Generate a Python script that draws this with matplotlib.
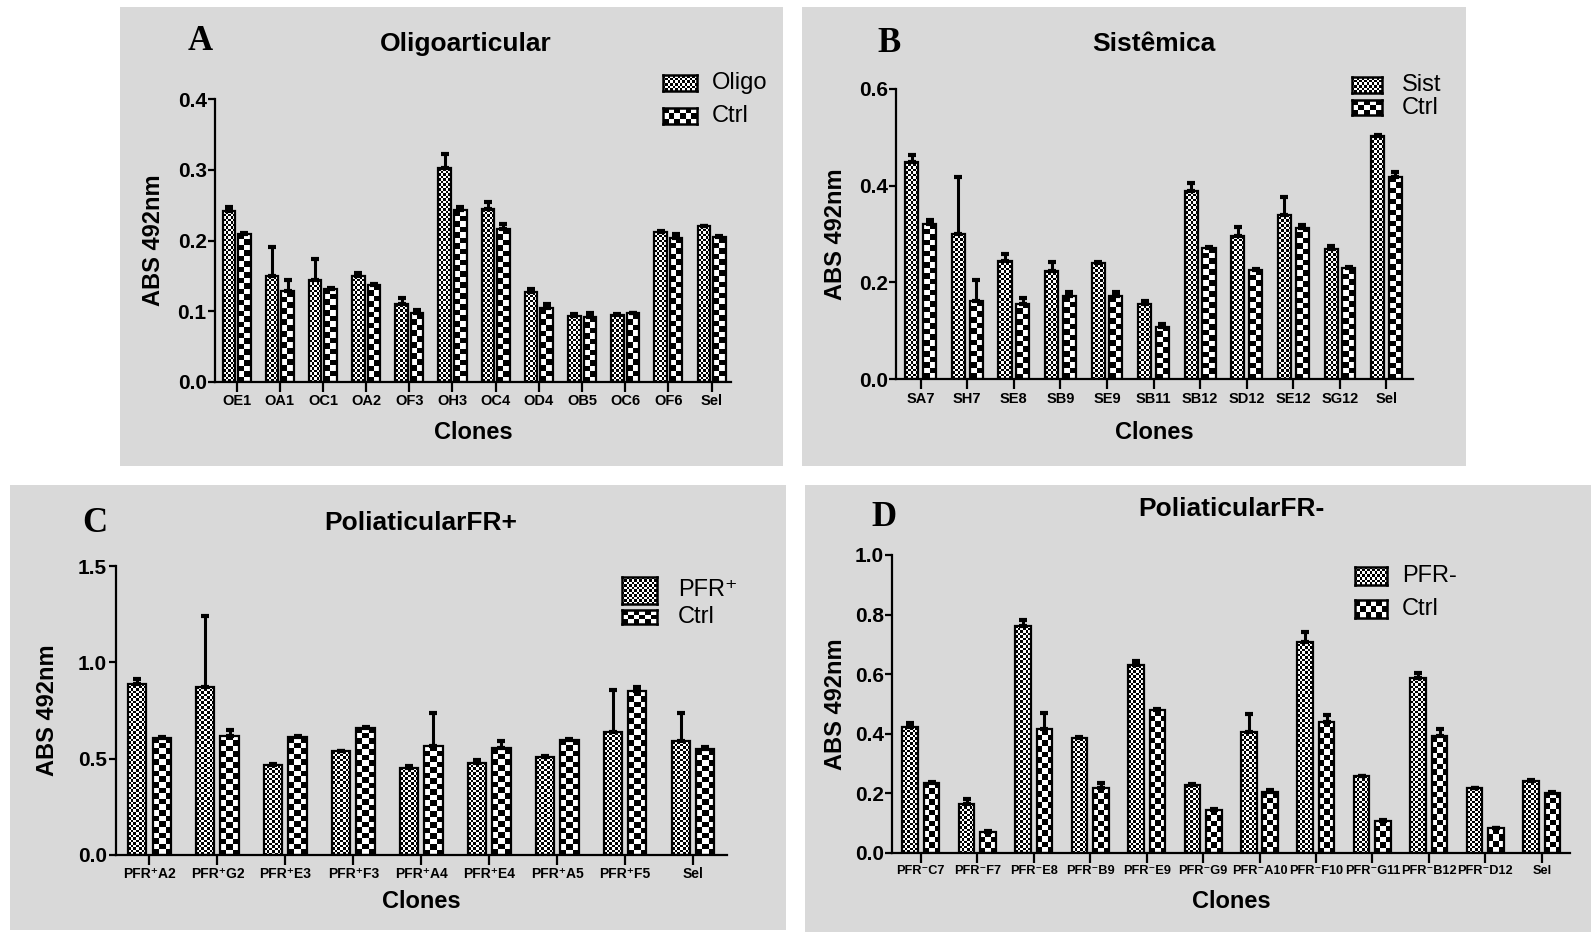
import numpy as np
import matplotlib
matplotlib.use("Agg")
import matplotlib.pyplot as plt
from matplotlib.patches import Rectangle

W, H = 1591, 932
BG = "#d9d9d9"
SANS = ["Liberation Sans", "DejaVu Sans"]

# Painel A - Oligoarticular
labels_a = ["OE1", "OA1", "OC1", "OA2", "OF3", "OH3", "OC4", "OD4", "OB5", "OC6", "OF6", "Sel"]
oligo = [0.242, 0.150, 0.144, 0.150, 0.110, 0.302, 0.244, 0.127, 0.093, 0.095, 0.212, 0.220]
oligo_err = [0.006, 0.041, 0.030, 0.004, 0.008, 0.020, 0.011, 0.005, 0.003, 0.001, 0.001, 0.001]
ctrl_a = [0.209, 0.128, 0.132, 0.137, 0.097, 0.243, 0.216, 0.104, 0.091, 0.097, 0.204, 0.205]
ctrl_a_err = [0.002, 0.016, 0.001, 0.002, 0.004, 0.005, 0.008, 0.006, 0.007, 0.001, 0.005, 0.002]

# Painel B - Sistêmica
labels_b = ["SA7", "SH7", "SE8", "SB9", "SE9", "SB11", "SB12", "SD12", "SE12", "SG12", "Sel"]
sist = [0.449, 0.301, 0.244, 0.224, 0.241, 0.155, 0.388, 0.295, 0.339, 0.270, 0.502]
sist_err = [0.014, 0.117, 0.014, 0.019, 0.002, 0.007, 0.017, 0.020, 0.037, 0.005, 0.003]
ctrl_b = [0.321, 0.162, 0.155, 0.171, 0.171, 0.109, 0.271, 0.226, 0.313, 0.229, 0.417]
ctrl_b_err = [0.008, 0.044, 0.013, 0.010, 0.010, 0.005, 0.002, 0.002, 0.006, 0.002, 0.011]

# Painel C - PoliaticularFR+
labels_c = ["PFR⁺A2", "PFR⁺G2", "PFR⁺E3", "PFR⁺F3", "PFR⁺A4", "PFR⁺E4", "PFR⁺A5", "PFR⁺F5", "Sel"]
pfrp = [0.888, 0.874, 0.467, 0.538, 0.452, 0.479, 0.510, 0.637, 0.590]
pfrp_err = [0.027, 0.368, 0.003, 0.003, 0.010, 0.014, 0.006, 0.219, 0.147]
ctrl_c = [0.609, 0.619, 0.611, 0.661, 0.568, 0.555, 0.595, 0.850, 0.548]
ctrl_c_err = [0.002, 0.030, 0.007, 0.005, 0.169, 0.035, 0.007, 0.020, 0.014]

# Painel D - PoliaticularFR-
labels_d = ["PFR⁻C7", "PFR⁻F7", "PFR⁻E8", "PFR⁻B9", "PFR⁻E9", "PFR⁻G9", "PFR⁻A10",
            "PFR⁻F10", "PFR⁻G11", "PFR⁻B12", "PFR⁻D12", "Sel"]
pfrm = [0.421, 0.164, 0.763, 0.386, 0.630, 0.227, 0.407, 0.709, 0.258, 0.586, 0.218, 0.242]
pfrm_err = [0.014, 0.015, 0.019, 0.001, 0.014, 0.004, 0.060, 0.033, 0.001, 0.019, 0.001, 0.002]
ctrl_d = [0.235, 0.071, 0.414, 0.218, 0.479, 0.143, 0.203, 0.438, 0.108, 0.392, 0.082, 0.202]
ctrl_d_err = [0.001, 0.001, 0.056, 0.015, 0.004, 0.003, 0.008, 0.026, 0.002, 0.024, 0.002, 0.003]

FINE = 2.5    # tamanho da célula do xadrez (px)
COARSE = 5.5


def fx(px):
    return px / W


def fy(py):
    return 1 - py / H


def board(nr, nc):
    i, j = np.indices((max(nr, 1), max(nc, 1)))
    return ((i + j) % 2).astype(float)


def draw_panel(box, labels, s1, e1, s2, e2, ylim, yticks, xlim, width, off, tick_fs):
    ax = fig.add_axes([fx(box[0]), fy(box[3]), fx(box[2] - box[0]), (box[3] - box[1]) / H])
    ax.patch.set_visible(False)
    x = np.arange(len(labels))
    axw = box[2] - box[0]
    axh = box[3] - box[1]
    pxx = axw / (xlim[1] - xlim[0])
    pxy = axh / (ylim[1] - ylim[0])
    for vals, errs, sign, cell in [(s1, e1, -1, FINE), (s2, e2, 1, COARSE)]:
        xc = x + sign * off
        for xi, v in zip(xc, vals):
            nc = int(round(width * pxx / cell))
            nr = int(round(v * pxy / cell))
            ax.imshow(board(nr, nc), extent=(xi - width / 2, xi + width / 2, 0, v),
                      origin="lower", aspect="auto", interpolation="nearest",
                      cmap="gray", vmin=0, vmax=1, zorder=1)
        ax.bar(xc, vals, width, fill=False, edgecolor="black", linewidth=1.6, zorder=2)
        ax.errorbar(xc, vals, yerr=[np.zeros(len(vals)), errs], fmt="none", ecolor="black",
                    elinewidth=2.2, capsize=3, capthick=3, zorder=3)
    ax.set_xlim(*xlim)
    ax.set_ylim(*ylim)
    ax.set_yticks(yticks)
    ax.set_yticklabels([f"{t:.1f}" for t in yticks], fontsize=15, fontweight="bold", family=SANS)
    ax.set_xticks(x)
    ax.set_xticklabels(labels, fontsize=tick_fs, fontweight="bold", family=SANS)
    for s in ["top", "right"]:
        ax.spines[s].set_visible(False)
    for s in ["left", "bottom"]:
        ax.spines[s].set_linewidth(1.6)
    ax.tick_params(axis="y", length=5, width=1.6, pad=1)
    ax.tick_params(axis="x", length=7, width=1.6, pad=2)
    return ax


def legend_item(x0, y0, x1, y1, cell, text, tx):
    lax = fig.add_axes([fx(x0), fy(y1), fx(x1 - x0), (y1 - y0) / H])
    lax.imshow(board(int(round((y1 - y0) / cell)), int(round((x1 - x0) / cell))),
               aspect="auto", interpolation="nearest", cmap="gray", vmin=0, vmax=1)
    lax.set_xticks([])
    lax.set_yticks([])
    for s in lax.spines.values():
        s.set_linewidth(1.8)
    fig.text(fx(tx), fy((y0 + y1) / 2), text, fontsize=17, family=SANS, va="center", ha="left")


fig = plt.figure(figsize=(W / 100, H / 100), dpi=100)
fig.patch.set_facecolor("white")

# fundos cinza
for (x0, y0, x1, y1) in [(120, 7, 783, 466), (802, 7, 1466, 466), (10, 485, 786, 930), (805, 485, 1591, 932)]:
    fig.add_artist(Rectangle((fx(x0), fy(y1)), fx(x1 - x0), (y1 - y0) / H,
                             transform=fig.transFigure, facecolor=BG, edgecolor="none", zorder=0))

ax_a = draw_panel((215, 99.3, 731, 381.7), labels_a, oligo, oligo_err, ctrl_a, ctrl_a_err,
                  (0, 0.4), [0.0, 0.1, 0.2, 0.3, 0.4], (-0.5, 11.45), 0.29, 0.18, 10.5)
ax_b = draw_panel((896, 88.7, 1413, 379.3), labels_b, sist, sist_err, ctrl_b, ctrl_b_err,
                  (0, 0.6), [0.0, 0.2, 0.4, 0.6], (-0.53, 10.57), 0.28, 0.19, 10.5)
ax_c = draw_panel((115.5, 566, 727, 855), labels_c, pfrp, pfrp_err, ctrl_c, ctrl_c_err,
                  (0, 1.5), [0.0, 0.5, 1.0, 1.5], (-0.5, 8.5), 0.27, 0.18, 10)
ax_d = draw_panel((892, 555, 1570, 852.7), labels_d, pfrm, pfrm_err, ctrl_d, ctrl_d_err,
                  (0, 1.0), [0.0, 0.2, 0.4, 0.6, 0.8, 1.0], (-0.51, 11.5), 0.275, 0.19, 9.2)

# títulos, letras e rótulos dos eixos
for (lx, ly, letter, tx, ty, title, ylx, yly) in [
        (200, 42, "A", 466, 44, "Oligoarticular", 154, 240),
        (889, 43, "B", 1154, 44, "Sistêmica", 835, 234),
        (95, 523, "C", 421, 523, "PoliaticularFR+", 47, 710),
        (884, 518, "D", 1231, 509, "PoliaticularFR-", 835, 704)]:
    fig.text(fx(lx), fy(ly), letter, fontsize=25, fontweight="bold",
             family=["Liberation Serif", "DejaVu Serif"], ha="center", va="center")
    fig.text(fx(tx), fy(ty), title, fontsize=19, fontweight="bold", family=SANS,
             ha="center", va="center")
    fig.text(fx(ylx), fy(yly), "ABS 492nm", fontsize=17, fontweight="bold", family=SANS,
             rotation=90, ha="center", va="center")

for ax, xly in [(ax_a, 432), (ax_b, 432), (ax_c, 902), (ax_d, 901)]:
    b = ax.get_position()
    fig.text(b.x0 + b.width / 2, fy(xly), "Clones", fontsize=17, fontweight="bold",
             family=SANS, ha="center", va="center")

# legendas
legend_item(663, 75, 697, 91, FINE, "Oligo", 712)
legend_item(663, 108, 697, 124, COARSE, "Ctrl", 712)
legend_item(1352, 77, 1382, 93, FINE, "Sist", 1402)
legend_item(1352, 100, 1382, 115, COARSE, "Ctrl", 1402)
legend_item(622, 577, 657, 604, FINE, "PFR⁺", 678)
legend_item(622, 610, 657, 624, COARSE, "Ctrl", 678)
legend_item(1355, 567, 1387, 585, FINE, "PFR-", 1402)
legend_item(1355, 600, 1387, 618, COARSE, "Ctrl", 1402)

fig.savefig("out.png", dpi=100)
